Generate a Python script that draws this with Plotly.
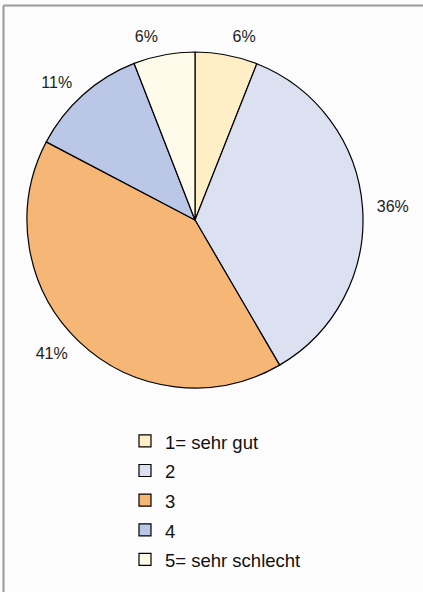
import plotly.graph_objects as go

categories = ["1= sehr gut", "2", "3", "4", "5= sehr schlecht"]
values = [6.0, 35.6, 41.1, 11.4, 5.9]
colors = ["#FFEEC6", "#DCE1F2", "#F6B676", "#BAC7E7", "#FFFBEA"]

W, H = 423, 592
FONT = "Liberation Sans, Arial, sans-serif"
legend_labels = ['<span style="font-size:18.5px">%s</span>' % c for c in categories]

# visible pie (no text)
pie = go.Pie(
    labels=legend_labels,
    values=values,
    sort=False,
    direction="clockwise",
    rotation=0,
    marker=dict(colors=colors, line=dict(color="#000000", width=1.2)),
    textinfo="none",
    domain=dict(x=[27 / W, 363 / W], y=[1 - 388 / H, 1 - 52 / H]),
    hoverinfo="skip",
)
# slightly larger transparent pie carrying the outside percent labels
label_ring = go.Pie(
    labels=legend_labels,
    values=values,
    sort=False,
    direction="clockwise",
    rotation=0,
    marker=dict(colors=["rgba(0,0,0,0)"] * len(values), line=dict(width=0)),
    texttemplate="%{percent:.0%}",
    textposition="outside",
    textfont=dict(family=FONT, size=16, color="#222222"),
    domain=dict(x=[17 / W, 373 / W], y=[1 - 398 / H, 1 - 42 / H]),
    hoverinfo="skip",
    showlegend=False,
)

fig = go.Figure([pie, label_ring])

fig.update_layout(
    width=W, height=H,
    margin=dict(l=0, r=0, t=0, b=0),
    paper_bgcolor="#FCFCFC",
    plot_bgcolor="#FCFCFC",
    showlegend=True,
    legend=dict(
        x=125 / W, y=1 - 421 / H, xanchor="left", yanchor="top",
        font=dict(family=FONT, size=20.5, color="#111111"),
        bgcolor="rgba(0,0,0,0)",
        traceorder="normal",
    ),
    shapes=[
        dict(type="line", xref="paper", yref="paper", x0=3.5 / W, x1=1, y0=1 - 5.5 / H, y1=1 - 5.5 / H,
             line=dict(color="#999999", width=2)),
        dict(type="line", xref="paper", yref="paper", x0=3.5 / W, x1=3.5 / W, y0=0, y1=1 - 5.5 / H,
             line=dict(color="#999999", width=2)),
    ],
)

fig.write_html(
    "out.html",
    config={"displayModeBar": False},
    post_script="document.body.style.margin='0';document.body.style.overflow='hidden';",
)
